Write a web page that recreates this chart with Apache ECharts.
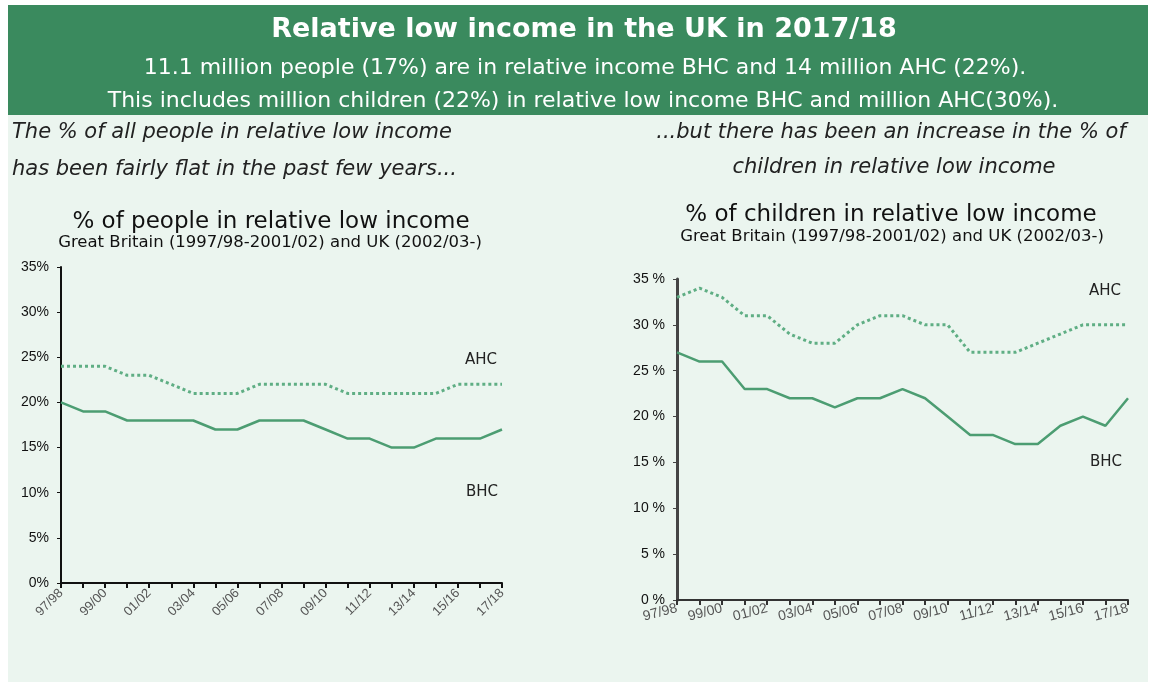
<!DOCTYPE html>
<html>
<head>
<meta charset="utf-8">
<script src="https://cdn.jsdelivr.net/npm/echarts@6/dist/echarts.min.js"></script>
<style>
  html, body { margin: 0; padding: 0; background: #fff; }
  #main { width: 1150px; height: 682px; }
</style>
</head>
<body>
<div id="main"></div>
<script>
const years = ['97/98', '98/99', '99/00', '00/01', '01/02', '02/03', '03/04', '04/05', '05/06', '06/07',
    '07/08', '08/09', '09/10', '10/11', '11/12', '12/13', '13/14', '14/15', '15/16', '16/17', '17/18'];

// % of all people
const peopleBHC = [20, 19, 19, 18, 18, 18, 18, 17, 17, 18, 18, 18, 17, 16, 16, 15, 15, 16, 16, 16, 17];
const peopleAHC = [24, 24, 24, 23, 23, 22, 21, 21, 21, 22, 22, 22, 22, 21, 21, 21, 21, 21, 22, 22, 22];

// % of children
const childBHC = [27, 26, 26, 23, 23, 22, 22, 21, 22, 22, 23, 22, 20, 18, 18, 17, 17, 19, 20, 19, 22];
const childAHC = [33, 34, 33, 31, 31, 29, 28, 28, 30, 31, 31, 30, 30, 27, 27, 27, 28, 29, 30, 30, 30];

const green = '#3a8a5e';
const lineGreen = '#4c9d72';
const dotGreen = '#5fae84';

const myChart = echarts.init(document.getElementById('main'));

const yAxisBase = (fmt, axisColor, axisWidth) => ({
    type: 'value',
    min: 0,
    max: 35,
    interval: 5,
    splitLine: {show: false},
    axisLine: {show: true, lineStyle: {color: axisColor, width: axisWidth}},
    axisTick: {show: true, length: 4, lineStyle: {color: axisColor}},
    axisLabel: {
        formatter: fmt,
        color: '#111',
        fontFamily: 'Liberation Sans',
        fontSize: 14,
        margin: 12
    }
});

const txt = (x, y, text, font, extra) => ({
    type: 'text', x: x, y: y,
    style: Object.assign({text: text, fill: '#111', font: font, align: 'center', verticalAlign: 'middle'}, extra || {})
});

myChart.setOption({
    backgroundColor: '#ffffff',
    animation: false,
    graphic: [
        {type: 'rect', shape: {x: 8, y: 115, width: 1140, height: 567}, style: {fill: '#ebf5ef'}, z: -10},
        {type: 'rect', shape: {x: 8, y: 5, width: 1140, height: 110}, style: {fill: green}, z: -10},
        txt(584, 30, 'Relative low income in the UK in 2017/18', 'bold 27px DejaVu Sans', {fill: '#fff'}),
        txt(585, 68, '11.1 million people (17%) are in relative income BHC and 14 million AHC (22%).',
            '22px DejaVu Sans', {fill: '#fff'}),
        txt(583, 101, 'This includes million children (22%) in relative low income BHC and million AHC(30%).',
            '22px DejaVu Sans', {fill: '#fff'}),

        txt(12, 133, 'The % of all people in relative low income', 'italic 21px DejaVu Sans',
            {fill: '#222', align: 'left'}),
        txt(12, 170, 'has been fairly flat in the past few years...', 'italic 21px DejaVu Sans',
            {fill: '#222', align: 'left'}),
        txt(891, 133, '...but there has been an increase in the % of', 'italic 21px DejaVu Sans', {fill: '#222'}),
        txt(894, 168, 'children in relative low income', 'italic 21px DejaVu Sans', {fill: '#222'}),

        txt(271, 222, '% of people in relative low income', '23px DejaVu Sans'),
        txt(270, 243, 'Great Britain (1997/98-2001/02) and UK (2002/03-)', '16.5px DejaVu Sans'),
        txt(891, 215, '% of children in relative low income', '23px DejaVu Sans'),
        txt(892, 237, 'Great Britain (1997/98-2001/02) and UK (2002/03-)', '16.5px DejaVu Sans'),

        txt(481, 360, 'AHC', '15px DejaVu Sans', {fill: '#222'}),
        txt(482, 492, 'BHC', '15px DejaVu Sans', {fill: '#222'}),
        txt(1105, 291, 'AHC', '15px DejaVu Sans', {fill: '#222'}),
        txt(1106, 462, 'BHC', '15px DejaVu Sans', {fill: '#222'})
    ],
    grid: [
        {left: 61, top: 267, width: 441, height: 316, containLabel: false},
        {left: 677, top: 279, width: 451, height: 321, containLabel: false}
    ],
    xAxis: [
        {
            gridIndex: 0,
            type: 'category',
            boundaryGap: false,
            data: years,
            axisLine: {lineStyle: {color: '#111', width: 2}},
            axisTick: {show: true, interval: 0, length: 5, lineStyle: {color: '#111', width: 2}},
            axisLabel: {
                interval: 1,
                rotate: 45,
                color: '#555',
                fontFamily: 'Liberation Sans',
                fontSize: 13,
                margin: 8
            }
        },
        {
            gridIndex: 1,
            type: 'category',
            boundaryGap: false,
            data: years,
            axisLine: {lineStyle: {color: '#333', width: 2}},
            axisTick: {show: true, interval: 0, length: 5, lineStyle: {color: '#333', width: 2}},
            axisLabel: {
                interval: 1,
                rotate: 15,
                color: '#555',
                fontFamily: 'Liberation Sans',
                fontSize: 14,
                margin: 8
            }
        }
    ],
    yAxis: [
        Object.assign({gridIndex: 0}, yAxisBase('{value}%', '#111', 2)),
        Object.assign({gridIndex: 1}, yAxisBase('{value} %', '#444', 3))
    ],
    series: [
        {
            name: 'BHC', type: 'line', xAxisIndex: 0, yAxisIndex: 0, data: peopleBHC,
            symbol: 'none', lineStyle: {color: lineGreen, width: 2.5}
        },
        {
            name: 'AHC', type: 'line', xAxisIndex: 0, yAxisIndex: 0, data: peopleAHC,
            symbol: 'none', lineStyle: {color: dotGreen, width: 3, type: [3, 3]}
        },
        {
            name: 'BHC', type: 'line', xAxisIndex: 1, yAxisIndex: 1, data: childBHC,
            symbol: 'none', lineStyle: {color: lineGreen, width: 2.5}
        },
        {
            name: 'AHC', type: 'line', xAxisIndex: 1, yAxisIndex: 1, data: childAHC,
            symbol: 'none', lineStyle: {color: dotGreen, width: 3, type: [3, 3]}
        }
    ]
});
</script>
</body>
</html>
